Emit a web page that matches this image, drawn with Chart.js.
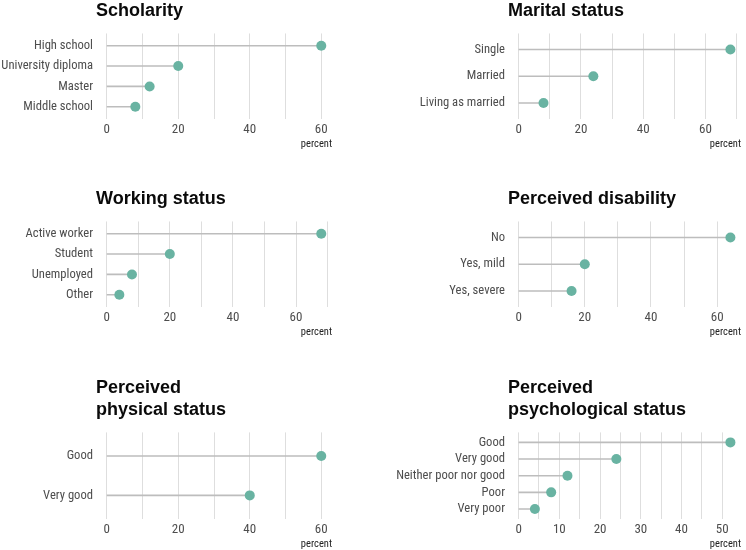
<!DOCTYPE html>
<html><head><meta charset="utf-8">
<script src="https://cdn.jsdelivr.net/npm/chart.js@4/dist/chart.umd.min.js"></script>
<style>
html,body{margin:0;padding:0;background:#fff;}
body{width:746px;height:550px;position:relative;overflow:hidden;}
canvas{position:absolute;}
</style></head><body>
<canvas id="c1"></canvas><canvas id="c2"></canvas><canvas id="c3"></canvas>
<canvas id="c4"></canvas><canvas id="c5"></canvas><canvas id="c6"></canvas>
<script>
// ---- data ----
const scholarityLabels = ['High school', 'University diploma', 'Master', 'Middle school'];
const scholarityValues = [60, 20, 12, 8];
const maritalLabels = ['Single', 'Married', 'Living as married'];
const maritalValues = [68, 24, 8];
const workingLabels = ['Active worker', 'Student', 'Unemployed', 'Other'];
const workingValues = [68, 20, 8, 4];
const disabilityLabels = ['No', 'Yes, mild', 'Yes, severe'];
const disabilityValues = [64, 20, 16];
const physicalLabels = ['Good', 'Very good'];
const physicalValues = [60, 40];
const psychLabels = ['Good', 'Very good', 'Neither poor nor good', 'Poor', 'Very poor'];
const psychValues = [52, 24, 12, 8, 4];
const tickLabels20 = [0, 20, 40, 60];
const tickLabels10 = [0, 10, 20, 30, 40, 50];
const gridStep20 = 10;
const gridStep10 = 5;
const axisTitle = 'percent';

const NARROW = '"Liberation Sans Narrow", "Arial Narrow", "Roboto Condensed", "DejaVu Sans Condensed", sans-serif';
const BOLD = '"Liberation Sans", Arial, sans-serif';

function makePanel(id, pos, title, labels, values, labelledTicks, gridStep) {
  const el = document.getElementById(id);
  el.width = 373; el.height = pos.h;
  el.style.left = pos.x + 'px'; el.style.top = pos.y + 'px';
  const dmax = Math.max(...values);
  const n = labels.length;
  const points = values.map((v, i) => ({x: v, y: i}));
  const stems = [];
  values.forEach((v, i) => { stems.push({x: 0, y: i}, {x: v, y: i}, {x: null, y: null}); });
  new Chart(el, {
    type: 'scatter',
    data: {datasets: [
      {data: points, pointRadius: 5, pointHoverRadius: 5, pointBackgroundColor: '#69b3a2',
       pointBorderWidth: 0, backgroundColor: '#69b3a2', borderColor: '#69b3a2'},
      {data: stems, showLine: true, pointRadius: 0, pointHoverRadius: 0, borderColor: '#bdbdbd',
       borderWidth: 1.6, spanGaps: false}
    ]},
    options: {
      responsive: false, animation: false, devicePixelRatio: 1,
      layout: {padding: {left: 0, right: pos.padRight, top: 0, bottom: 0}},
      plugins: {
        legend: {display: false}, tooltip: {enabled: false},
        title: {display: true, text: title, align: 'start', fullSize: false, color: '#0a0a0a',
          font: {family: BOLD, size: 18, weight: 'bold', lineHeight: 1.22},
          padding: {top: 0, bottom: 11.5}}
      },
      scales: {
        x: {
          type: 'linear', min: -0.05 * dmax, max: 1.05 * dmax,
          afterBuildTicks: (s) => { const t = []; for (let v = 0; v <= s.max; v += gridStep) t.push({value: v}); s.ticks = t; },
          afterFit: (s) => { s.height = 32; },
          ticks: {autoSkip: false, maxRotation: 0, padding: 3, color: '#4d4d4d',
            font: {family: NARROW, size: 13},
            callback: (v) => labelledTicks.includes(v) ? String(v) : ''},
          grid: {color: '#dedede', lineWidth: 1, drawTicks: false},
          border: {display: false},
          title: {display: true, text: axisTitle, align: 'end', color: '#222',
            font: {family: NARROW, size: 10.5}, padding: {top: 0, bottom: 0}}
        },
        y: {
          type: 'linear', reverse: true, min: -0.6, max: n - 0.4,
          afterBuildTicks: (s) => { s.ticks = labels.map((l, i) => ({value: i})); },
          afterFit: (s) => { s.width = pos.axisW; },
          ticks: {autoSkip: false, padding: 3, color: '#4d4d4d',
            font: {family: NARROW, size: 12.6},
            callback: (v) => labels[v]},
          grid: {display: false, drawTicks: false},
          border: {display: false}
        }
      }
    }
  });
}

makePanel('c1', {x: 0, y: 0, h: 151, axisW: 96, padRight: 41}, 'Scholarity', scholarityLabels, scholarityValues, tickLabels20, gridStep20);
makePanel('c2', {x: 373, y: 0, h: 151, axisW: 135, padRight: 2}, 'Marital status', maritalLabels, maritalValues, tickLabels20, gridStep20);
makePanel('c3', {x: 0, y: 188, h: 151, axisW: 96, padRight: 41}, 'Working status', workingLabels, workingValues, tickLabels20, gridStep20);
makePanel('c4', {x: 373, y: 188, h: 151, axisW: 135, padRight: 2}, 'Perceived disability', disabilityLabels, disabilityValues, tickLabels20, gridStep20);
makePanel('c5', {x: 0, y: 377, h: 174, axisW: 96, padRight: 41}, ['Perceived', 'physical status'], physicalLabels, physicalValues, tickLabels20, gridStep20);
makePanel('c6', {x: 373, y: 377, h: 174, axisW: 135, padRight: 2}, ['Perceived', 'psychological status'], psychLabels, psychValues, tickLabels10, gridStep10);
</script>
</body></html>
